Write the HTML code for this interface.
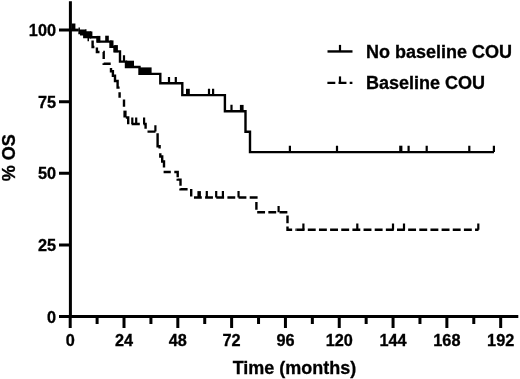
<!DOCTYPE html>
<html><head><meta charset="utf-8"><style>
html,body{margin:0;padding:0;background:#fff;}
svg{display:block;filter:blur(0.3px);}
text{font-family:"Liberation Sans",Arial,sans-serif;font-weight:bold;fill:#000;stroke:#000;stroke-width:0.3px;}
</style></head><body>
<svg width="520" height="379" viewBox="0 0 520 379">
<rect width="520" height="379" fill="#fff"/>
<g fill="none" stroke="#000" stroke-linecap="butt" stroke-linejoin="miter">
<path d="M70.4 30.05 H78.6 M91.2 31.5 V37.3 H97.6 V41.6 H110.5 V46.8 H114.5 V51.4 H120 V61.6 H126 V67 H139.5 V73.9 H160.3 V83.3 H182.3 V95.1 H224.9 V111.2 H245.5 V131.8 H250 V152.1 H494" stroke-width="2.4"/>
<path d="M124.00 61.60 V55.20 M169.00 83.30 V76.90 M175.80 83.30 V76.90 M209.00 95.10 V88.70 M213.10 95.10 V88.70 M231.50 111.20 V104.80 M289.90 152.10 V145.70 M337.00 152.10 V145.70 M408.60 152.10 V145.70 M426.70 152.10 V145.70 M469.30 152.10 V145.70 M493.90 152.10 V145.70" stroke-width="2.2"/>
<path d="M70.4 30.05 H78.4" stroke-width="2.4"/>
<path d="M92.6 40.6 V47 H94.4 M96.9 47.4 V52 H99.5 M103.2 52 H103.7 V59 M103.7 63.2 V63.7 H110.7 M111 67.9 V71.3 H112.9 V75.8 H115 V81 H117.6 V87.6 H119.6 M119.6 92.2 V97.8 M124 99.5 V106.7 M125.8 117.5 H128.2 V124.3 M131.6 124 H139.8 M143.4 124 H145.6 V128.8 M147.5 131.6 H155.5 M157.6 133.3 V146.3 H159.6 V148.6 M160.3 153.2 V156.5 H162.2 V161.5 H164 V167.5 M163.6 172 H170.8 M174.3 172 H177.7 V177.2 M177.7 178.8 V179.6 H180.5 V185.8 M180.5 188.5 V189.2 H187.6 M191.2 188.9 V196.4" stroke-width="2.4"/>
<path d="M193.95 197.5 H256.4 V212.3 H287.5 V229.8 H296.6" stroke-width="2.4" stroke-dasharray="7.85 3.3"/>
<path d="M296.65 229.8 H478.5" stroke-width="2.4" stroke-dasharray="7.9 3.25"/>
<path d="M132.30 124.00 V117.60 M136.20 124.00 V117.60 M144.10 124.00 V117.60 M155.40 131.60 V125.20 M206.80 197.50 V191.10 M216.20 197.50 V191.10 M222.90 197.50 V191.10 M238.55 197.50 V191.10 M278.60 212.30 V205.90 M303.40 229.80 V223.40 M357.30 229.80 V223.40 M393.00 229.80 V223.40 M404.00 229.80 V223.40 M478.30 229.80 V223.40" stroke-width="2.2"/>
<path d="M70.4 1.2 V318.1 M68.9 316.6 H518.3" stroke-width="3.0"/>
<path d="M70.20 316.60 V328.1 M124.01 316.60 V328.1 M177.82 316.60 V328.1 M231.63 316.60 V328.1 M285.44 316.60 V328.1 M339.25 316.60 V328.1 M393.06 316.60 V328.1 M446.87 316.60 V328.1 M500.68 316.60 V328.1 M97.11 316.60 V323.9 M150.92 316.60 V323.9 M204.73 316.60 V323.9 M258.54 316.60 V323.9 M312.35 316.60 V323.9 M366.16 316.60 V323.9 M419.96 316.60 V323.9 M473.78 316.60 V323.9 M59 316.60 H70.40 M59 244.96 H70.40 M59 173.33 H70.40 M59 101.69 H70.40 M59 30.05 H70.40 " stroke-width="3.0"/>
<path d="M327.5 51.45 H352.5" stroke-width="2.4"/>
<path d="M340 51.45 V44.9" stroke-width="2.2"/>
<path d="M327.4 82.85 H352.4" stroke-width="2.4" stroke-dasharray="7.9 3.25"/>
<path d="M340 82.85 V76.4" stroke-width="2.2"/>
</g>
<g fill="#000">
<path d="M78.5 27.6 H79.9 V29.6 H85.1 V29.2 H86.5 V31.3 H91.2 V38.4 H89 V41.2 H87.5 V38.3 H83.1 V35.5 H80 V34.2 H78.3 Z"/>
<rect x="71.60" y="23.50" width="3.80" height="6.50"/><rect x="96.60" y="35.90" width="3.80" height="6.50"/><rect x="110.10" y="40.40" width="3.40" height="7.20"/><rect x="114.20" y="45.10" width="3.70" height="7.20"/><rect x="105.20" y="35.70" width="3.60" height="5.90"/><rect x="126.00" y="60.70" width="8.00" height="6.30"/><rect x="139.50" y="67.40" width="12.10" height="6.50"/><rect x="186.00" y="88.80" width="3.80" height="6.30"/><rect x="239.90" y="104.90" width="3.70" height="6.30"/><rect x="399.20" y="145.70" width="3.20" height="6.40"/><rect x="197.40" y="191.10" width="3.50" height="6.40"/><rect x="123.40" y="110.60" width="3.20" height="6.90"/>
</g>
<g font-size="16.3">
<text x="56.0" y="322.70" text-anchor="end">0</text>
<text x="56.0" y="251.06" text-anchor="end">25</text>
<text x="56.0" y="179.43" text-anchor="end">50</text>
<text x="56.0" y="107.79" text-anchor="end">75</text>
<text x="56.0" y="36.15" text-anchor="end">100</text>
<text x="70.20" y="345.8" text-anchor="middle">0</text>
<text x="124.01" y="345.8" text-anchor="middle">24</text>
<text x="177.82" y="345.8" text-anchor="middle">48</text>
<text x="231.63" y="345.8" text-anchor="middle">72</text>
<text x="285.44" y="345.8" text-anchor="middle">96</text>
<text x="339.25" y="345.8" text-anchor="middle">120</text>
<text x="393.06" y="345.8" text-anchor="middle">144</text>
<text x="446.87" y="345.8" text-anchor="middle">168</text>
<text x="500.68" y="345.8" text-anchor="middle">192</text>
</g>
<g font-size="18">
<text x="366" y="57.95">No baseline COU</text>
<text x="366" y="88.8">Baseline COU</text>
<text x="294.5" y="373.5" text-anchor="middle">Time (months)</text>
<text transform="translate(15.2 157.8) rotate(-90)" text-anchor="middle">% OS</text>
</g>
</svg>
</body></html>
